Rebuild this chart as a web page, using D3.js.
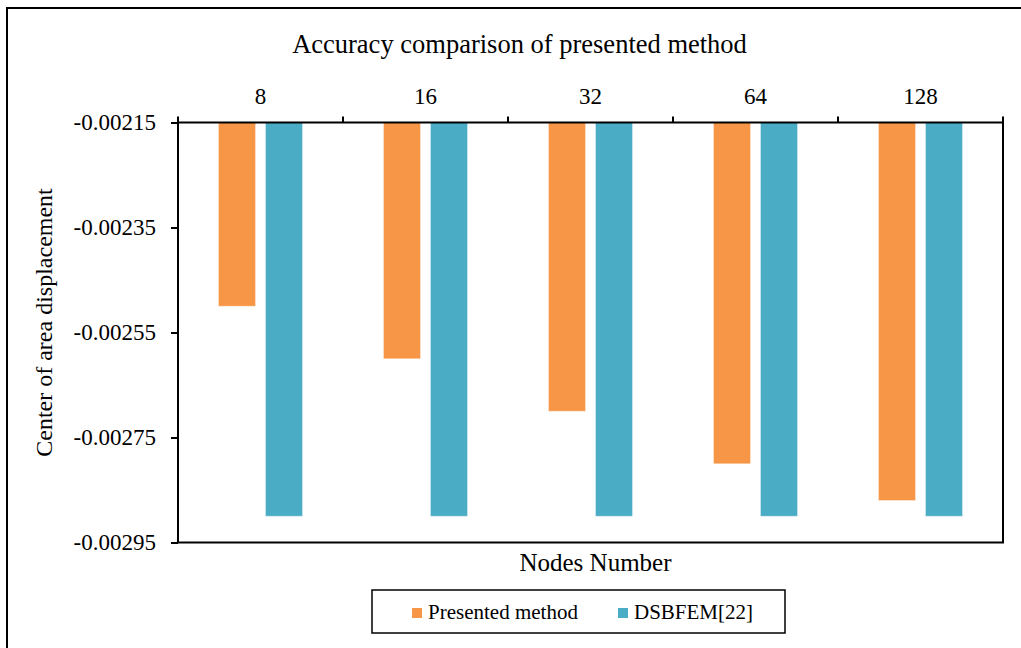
<!DOCTYPE html>
<html>
<head>
<meta charset="utf-8">
<script src="https://cdn.jsdelivr.net/npm/d3@7"></script>
<style>
  html, body { margin: 0; padding: 0; background: #fff; }
  svg text { font-family: "Liberation Serif", "Times New Roman", serif !important; fill: #000; }
</style>
</head>
<body>
<svg id="chart" width="1021" height="648"></svg>
<script>
// Node counts on the category axis
const nodes = ["8", "16", "32", "64", "128"];
// Centre-of-area displacement per method
const presented = [-0.0025, -0.0026, -0.0027, -0.0028, -0.00287];
const dsbfem = [-0.0029, -0.0029, -0.0029, -0.0029, -0.0029];
const seriesNames = ["Presented method", "DSBFEM[22]"];
const seriesColors = ["#F79646", "#4BACC6"];
const yTicks = [-0.00215, -0.00235, -0.00255, -0.00275, -0.00295];

const svg = d3.select("#chart");
const plot = { left: 178, right: 1003, top: 122.5, bottom: 542.5 };

// outer chart frame (top and left edges visible)
svg.append("rect")
  .attr("x", 7).attr("y", 8)
  .attr("width", 1040).attr("height", 660)
  .attr("fill", "none").attr("stroke", "#000").attr("stroke-width", 2);

const x = d3.scaleBand().domain(nodes).range([plot.left, plot.right]).padding(0);

// two bars per group: 37px wide, 10px apart
const barW = 37, gap = 10;
const step = barW + gap;
const pin = gap / step;
const pout = (x.bandwidth() / step - (2 - pin)) / 2;
const xs = d3.scaleBand().domain(seriesNames).range([0, x.bandwidth()])
  .paddingInner(pin).paddingOuter(pout);

const y = d3.scaleLinear().domain([-0.00215, -0.00295]).range([plot.top, plot.bottom]);

const data = nodes.map((n, i) => ({ n, vals: [presented[i], dsbfem[i]] }));

// bars hang down from the top of the value axis
const g = svg.append("g");
data.forEach(d => {
  d.vals.forEach((v, k) => {
    g.append("rect")
      .attr("x", x(d.n) + xs(seriesNames[k]))
      .attr("y", y(-0.00215))
      .attr("width", xs.bandwidth())
      .attr("height", y(v) - y(-0.00215))
      .attr("fill", seriesColors[k])
      .attr("stroke", "#fff").attr("stroke-opacity", 0.35).attr("stroke-width", 1);
  });
});

// plot frame
svg.append("rect")
  .attr("x", plot.left).attr("y", plot.top)
  .attr("width", plot.right - plot.left).attr("height", plot.bottom - plot.top)
  .attr("fill", "none").attr("stroke", "#000").attr("stroke-width", 2);

// category axis along the top
const xAxis = svg.append("g")
  .attr("transform", `translate(0,${plot.top})`)
  .call(d3.axisTop(x).tickSize(0).tickPadding(19));
xAxis.select(".domain").remove();
xAxis.selectAll("text").attr("font-size", 23);
// tick marks between categories
const bounds = nodes.map(n => x(n)).concat([plot.right]);
svg.append("g").selectAll("line").data(bounds).join("line")
  .attr("x1", d => d).attr("x2", d => d)
  .attr("y1", plot.top - 6).attr("y2", plot.top)
  .attr("stroke", "#000").attr("stroke-width", 2);

// value axis
const yAxis = svg.append("g")
  .attr("transform", `translate(${plot.left},0)`)
  .call(d3.axisLeft(y).tickValues(yTicks).tickSize(7).tickPadding(15)
    .tickFormat(d => d3.format(".5f")(d).replace("−", "-")));
yAxis.select(".domain").remove();
yAxis.selectAll("line").attr("stroke", "#000").attr("stroke-width", 2);
yAxis.selectAll("text").attr("font-size", 23);

// titles
svg.append("text").attr("x", 519.5).attr("y", 53)
  .attr("text-anchor", "middle").attr("font-size", 26.5).text("Accuracy comparison of presented method");
svg.append("text").attr("x", 595.5).attr("y", 571)
  .attr("text-anchor", "middle").attr("font-size", 25).text("Nodes Number");
svg.append("text")
  .attr("transform", "translate(52,322.5) rotate(-90)")
  .attr("text-anchor", "middle").attr("font-size", 24).text("Center of area displacement");

// legend
const lg = svg.append("g");
lg.append("rect").attr("x", 372).attr("y", 590).attr("width", 413).attr("height", 43)
  .attr("fill", "#fff").attr("stroke", "#000").attr("stroke-width", 1.5);
const legendX = [412, 618];
seriesNames.forEach((s, k) => {
  lg.append("rect").attr("x", legendX[k]).attr("y", 608).attr("width", 10).attr("height", 10)
    .attr("fill", seriesColors[k]);
  lg.append("text").attr("x", legendX[k] + 16).attr("y", 619)
    .attr("font-size", 21).text(s);
});
</script>
</body>
</html>
